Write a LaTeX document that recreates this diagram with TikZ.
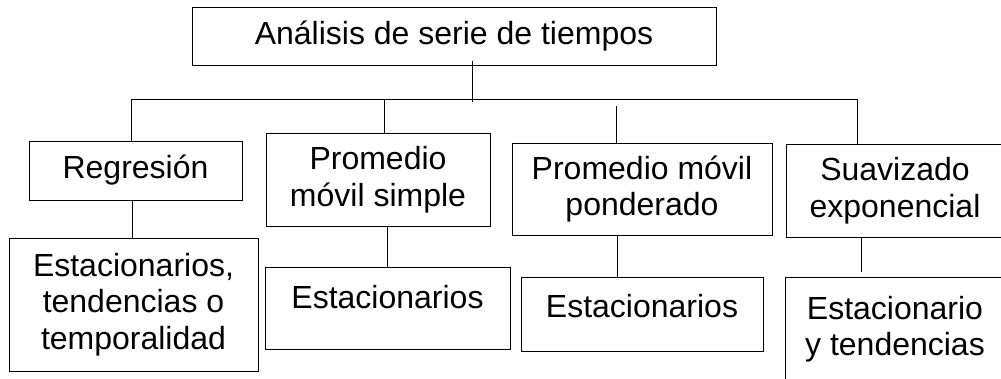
\documentclass[tikz,border=0pt]{standalone}
\usepackage{fontspec}
\setmainfont{Liberation Sans}
\begin{document}
\begin{tikzpicture}[x=1pt,y=-1pt,
  box/.style={draw=black, line width=1pt, inner sep=0pt, align=center,
    font=\fontsize{32}{36.5}\selectfont},
  conn/.style={draw=black, line width=1pt}]
\useasboundingbox (0,0) rectangle (1001,378);
\clip (0,0) rectangle (1001,378);
% boxes
\node[box, minimum width=524pt, minimum height=58pt] (top) at (454,36) {Análisis de serie de tiempos};
\node[box, minimum width=213pt, minimum height=59pt] (reg) at (135.5,170.5) {Regresión};
\node[box, minimum width=224pt, minimum height=93pt] (pms) at (378,179.5) {Promedio\\móvil simple};
\node[box, minimum width=260pt, minimum height=92pt] (pmp) at (642,189) {Promedio móvil\\ponderado};
\node[box, minimum width=218pt, minimum height=93pt] (sua) at (895,190.5) {Suavizado\\exponencial};
\node[box, minimum width=249pt, minimum height=133pt] (e1) at (133.5,304.5) {Estacionarios,\\tendencias o\\temporalidad};
\node[box, minimum width=245pt, minimum height=82pt, text height=22pt, text depth=22pt] (e2) at (387.5,308) {Estacionarios};
\node[box, minimum width=242pt, minimum height=74pt, text height=22pt, text depth=16pt] (e3) at (642,314) {Estacionarios};
\node[box, minimum width=220pt, minimum height=104pt] (e4) at (895,329) {Estacionario\\y tendencias};
% coordinates
\coordinate (hub) at (472,99);
\coordinate (busL) at (131,99);
\coordinate (busR) at (857,99);
\coordinate (c2) at (384,99);
\coordinate (c3) at (616,106);
\coordinate (l1) at (132,0);
\coordinate (l2) at (387,0);
\coordinate (l3) at (617,0);
\coordinate (l4e) at (861,272);
% connectors
\draw[conn] (top.south -| hub) ++(0,-5) -- ++(0,41);
\draw[conn] (busL) -- (busR);
\draw[conn] (busL) -- (busL |- reg.north);
\draw[conn] (c2) -- (c2 |- pms.north);
\draw[conn] (c3) -- (c3 |- pmp.north);
\draw[conn] (busR) -- (busR |- sua.north);
\draw[conn] (reg.south -| l1) -- (e1.north -| l1);
\draw[conn] (pms.south -| l2) -- (e2.north -| l2);
\draw[conn] (pmp.south -| l3) -- (e3.north -| l3);
\draw[conn] (sua.south -| l4e) -- (l4e);
\end{tikzpicture}
\end{document}
